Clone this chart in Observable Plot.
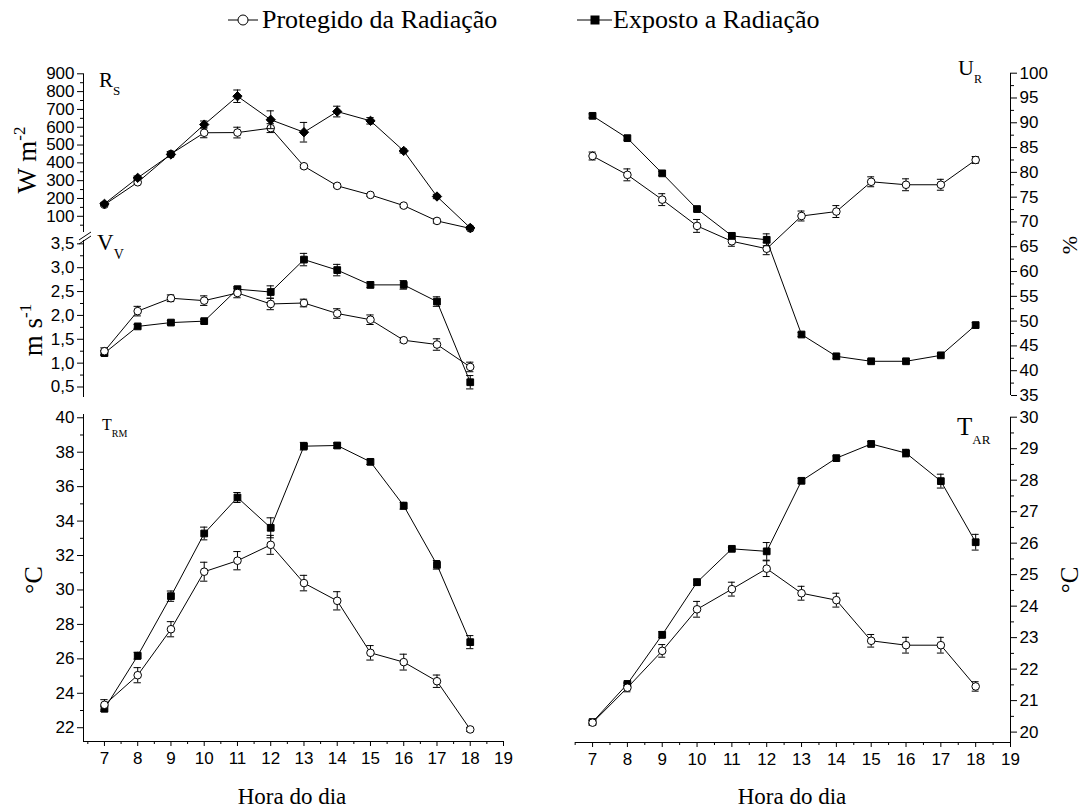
<!DOCTYPE html>
<html><head><meta charset="utf-8">
<script src="https://cdn.jsdelivr.net/npm/d3@7"></script>
<script src="https://cdn.jsdelivr.net/npm/@observablehq/plot@0.6"></script>
<style>
body{margin:0;background:#fff}
#wrap{position:relative;width:1085px;height:810px;overflow:hidden;background:#fff}
#wrap svg{position:absolute;left:0;top:0}
</style></head>
<body><div id="wrap"></div>
<script>
const hours = [7, 8, 9, 10, 11, 12, 13, 14, 15, 16, 17, 18];

const rsProt = [165, 291, 450, 569, 570, 595, 381, 271, 220, 160, 74, 32];
const rsProtErr = [8, 10, 12, 28, 30, 25, 10, 8, 8, 8, 12, 5];
const rsExp = [170, 316, 447, 615, 774, 642, 572, 688, 636, 467, 211, 35];
const rsExpErr = [8, 10, 15, 20, 35, 50, 55, 30, 18, 12, 12, 8];

const vvProt = [1.25, 2.09, 2.36, 2.31, 2.47, 2.24, 2.26, 2.04, 1.91, 1.48, 1.39, 0.92];
const vvProtErr = [0.07, 0.1, 0.07, 0.1, 0.1, 0.12, 0.08, 0.1, 0.1, 0.05, 0.12, 0.1];
const vvExp = [1.21, 1.77, 1.85, 1.88, 2.55, 2.49, 3.17, 2.95, 2.64, 2.64, 2.29, 0.60];
const vvExpErr = [0.05, 0.04, 0.04, 0.04, 0.05, 0.13, 0.13, 0.12, 0.06, 0.09, 0.1, 0.14];

const trmProt = [23.33, 25.05, 27.72, 31.06, 31.7, 32.62, 30.4, 29.37, 26.35, 25.81, 24.7, 21.9];
const trmProtErr = [0.3, 0.44, 0.44, 0.55, 0.53, 0.55, 0.45, 0.53, 0.42, 0.46, 0.36, 0.12];
const trmExp = [23.1, 26.18, 29.64, 33.28, 35.37, 33.61, 38.35, 38.39, 37.44, 34.89, 31.46, 26.97];
const trmExpErr = [0.15, 0.2, 0.3, 0.37, 0.29, 0.58, 0.22, 0.15, 0.15, 0.2, 0.25, 0.38];

const urProt = [83.3, 79.5, 74.5, 69.2, 66.1, 64.6, 71.2, 72.1, 78.1, 77.5, 77.5, 82.5];
const urProtErr = [0.8, 1.2, 1.2, 1.3, 1.0, 1.2, 1.0, 1.2, 1.0, 1.2, 1.1, 0.7];
const urExp = [91.4, 86.9, 79.8, 72.6, 67.2, 66.4, 47.3, 42.9, 41.9, 41.9, 43.1, 49.2];
const urExpErr = [0.4, 0.4, 0.4, 0.4, 0.6, 1.2, 0.4, 0.4, 0.4, 0.4, 0.4, 0.5];

const tarProt = [20.3, 21.41, 22.58, 23.9, 24.54, 25.19, 24.41, 24.19, 22.9, 22.76, 22.76, 21.45];
const tarProtErr = [0.08, 0.13, 0.2, 0.25, 0.22, 0.25, 0.22, 0.22, 0.2, 0.25, 0.25, 0.15];
const tarExp = [20.32, 21.53, 23.09, 24.76, 25.82, 25.74, 27.98, 28.7, 29.15, 28.86, 27.97, 26.03];
const tarExpErr = [0.05, 0.05, 0.1, 0.1, 0.05, 0.28, 0.08, 0.07, 0.08, 0.12, 0.22, 0.25];

const xTicks = [7, 8, 9, 10, 11, 12, 13, 14, 15, 16, 17, 18, 19];
const xMinor = [6.5, 7.5, 8.5, 9.5, 10.5, 11.5, 12.5, 13.5, 14.5, 15.5, 16.5, 17.5, 18.5];
const rsTicks = [100, 200, 300, 400, 500, 600, 700, 800, 900];
const rsMinor = [50, 150, 250, 350, 450, 550, 650, 750, 850];
const vvTicks = [0.5, 1.0, 1.5, 2.0, 2.5, 3.0, 3.5];
const vvMinor = [0.75, 1.25, 1.75, 2.25, 2.75, 3.25];
const trmTicks = [22, 24, 26, 28, 30, 32, 34, 36, 38, 40];
const trmMinor = [23, 25, 27, 29, 31, 33, 35, 37, 39];
const urTicks = [35, 40, 45, 50, 55, 60, 65, 70, 75, 80, 85, 90, 95, 100];
const urMinor = [37.5, 42.5, 47.5, 52.5, 57.5, 62.5, 67.5, 72.5, 77.5, 82.5, 87.5, 92.5, 97.5];
const tarTicks = [20, 21, 22, 23, 24, 25, 26, 27, 28, 29, 30];
const tarMinor = [20.5, 21.5, 22.5, 23.5, 24.5, 25.5, 26.5, 27.5, 28.5, 29.5];

const W = 1085, H = 810;
const rows = (v, e) => hours.map((h, i) => ({h, v: v[i], e: e[i]}));

function series(v, e, symbol, fill, r, cap) {
  const d = rows(v, e);
  return [
    Plot.ruleX(d, {x: "h", y1: q => q.v - q.e, y2: q => q.v + q.e, stroke: "black", strokeWidth: 1}),
    Plot.ruleY(d, {y: q => q.v + q.e, x1: q => q.h - cap, x2: q => q.h + cap, stroke: "black", strokeWidth: 1}),
    Plot.ruleY(d, {y: q => q.v - q.e, x1: q => q.h - cap, x2: q => q.h + cap, stroke: "black", strokeWidth: 1}),
    Plot.line(d, {x: "h", y: "v", stroke: "black", strokeWidth: 1}),
    Plot.dot(d, {x: "h", y: "v", symbol, fill, stroke: "black", strokeWidth: 1, r})
  ];
}

function yAxes(anchor, major, minor, fmt) {
  return [
    Plot.axisY(major, {anchor, label: null, tickSize: 6, tickPadding: 3, fontSize: 17, tickFormat: fmt}),
    Plot.axisY(minor, {anchor, label: null, tickSize: 3, tickFormat: () => ""})
  ];
}
function xAxes() {
  return [
    Plot.axisX(xTicks, {anchor: "bottom", label: null, tickSize: 5, tickPadding: 5, fontSize: 17, tickFormat: d => String(d)}),
    Plot.axisX(xMinor, {anchor: "bottom", label: null, tickSize: 3, tickFormat: () => ""})
  ];
}

function panel(x0, x1, y0, y1, xd, yd, marks) {
  return Plot.plot({
    width: W, height: H,
    marginLeft: x0, marginRight: W - x1, marginTop: y0, marginBottom: H - y1,
    x: {domain: xd, axis: null},
    y: {domain: yd, axis: null},
    style: {background: "none", fontFamily: "'Liberation Sans', Arial, sans-serif", fontSize: "17px", color: "black", overflow: "visible"},
    marks
  });
}

const LX = [6.37, 19], RX = [6.51, 19];
const num = d => String(d);
const comma = d => d.toFixed(1).replace(".", ",");

const plots = [
  panel(83, 503, 73.3, 232, LX, [9, 900], [
    Plot.ruleX([LX[0]], {stroke: "black"}),
    ...yAxes("left", rsTicks, rsMinor, num),
    ...series(rsProt, rsProtErr, "circle", "white", 3.8, 0.11),
    ...series(rsExp, rsExpErr, "diamond2", "black", 4.2, 0.11)
  ]),
  panel(83, 503, 240, 397, LX, [0.28, 3.57], [
    Plot.ruleX([LX[0]], {stroke: "black"}),
    ...yAxes("left", vvTicks, vvMinor, comma),
    ...series(vvExp, vvExpErr, "square", "black", 3.8, 0.11),
    ...series(vvProt, vvProtErr, "circle", "white", 3.8, 0.11)
  ]),
  panel(83, 503, 414, 741, LX, [21.2, 40.19], [
    Plot.ruleX([LX[0]], {stroke: "black"}),
    Plot.ruleY([21.2], {stroke: "black"}),
    ...yAxes("left", trmTicks, trmMinor, num),
    ...xAxes(),
    ...series(trmExp, trmExpErr, "square", "black", 3.8, 0.11),
    ...series(trmProt, trmProtErr, "circle", "white", 3.8, 0.11)
  ]),
  panel(575, 1010, 72.7, 395, RX, [35, 100], [
    Plot.ruleX([RX[1]], {stroke: "black"}),
    ...yAxes("right", urTicks, urMinor, num),
    ...series(urProt, urProtErr, "circle", "white", 3.8, 0.1),
    ...series(urExp, urExpErr, "square", "black", 3.8, 0.1)
  ]),
  panel(575, 1010, 416.7, 742, RX, [19.67, 30], [
    Plot.ruleX([RX[1]], {stroke: "black"}),
    Plot.ruleY([19.67], {stroke: "black"}),
    ...yAxes("right", tarTicks, tarMinor, num),
    ...xAxes(),
    ...series(tarExp, tarExpErr, "square", "black", 3.8, 0.1),
    ...series(tarProt, tarProtErr, "circle", "white", 3.8, 0.1)
  ])
];
const wrap = document.getElementById("wrap");
plots.forEach(p => wrap.appendChild(p));

const serif = "font-family=\"'Liberation Serif','Times New Roman',serif\"";
const overlay = `
<svg width="${W}" height="${H}" xmlns="http://www.w3.org/2000/svg" style="overflow:visible">
  <g stroke="black" stroke-width="1">
    <line x1="79" y1="240" x2="91" y2="232"/>
    <line x1="79" y1="244" x2="91" y2="236"/>
  </g>
  <g ${serif} fill="black">
    <line x1="228" y1="20" x2="258" y2="20" stroke="black"/>
    <circle cx="243" cy="20" r="5" fill="white" stroke="black"/>
    <text x="262" y="28" font-size="26">Protegido da Radiação</text>
    <line x1="577" y1="20" x2="612" y2="20" stroke="black"/>
    <rect x="590.5" y="15.5" width="9" height="9" fill="black"/>
    <text x="613" y="28" font-size="26">Exposto a Radiação</text>

    <text transform="translate(36,160) rotate(-90)" text-anchor="middle" font-size="27">W m<tspan dy="-11" font-size="17">-2</tspan></text>
    <text transform="translate(42,330) rotate(-90)" text-anchor="middle" font-size="27">m s<tspan dy="-11" font-size="17">-1</tspan></text>
    <text transform="translate(42,580) rotate(-90)" text-anchor="middle" font-size="26">°C</text>
    <text transform="translate(1077,245) rotate(-90)" text-anchor="middle" font-size="22">%</text>
    <text transform="translate(1078,580) rotate(-90)" text-anchor="middle" font-size="25">°C</text>

    <text x="99" y="87" font-size="21">R<tspan dy="8" font-size="13">S</tspan></text>
    <text x="97" y="250" font-size="23">V<tspan dy="9" font-size="14">V</tspan></text>
    <text x="102" y="430" font-size="16">T<tspan dy="7" font-size="10">RM</tspan></text>
    <text x="958" y="75" font-size="22">U<tspan dy="8" font-size="12">R</tspan></text>
    <text x="957" y="435" font-size="25">T<tspan dy="9" font-size="13">AR</tspan></text>

    <text x="292" y="804" text-anchor="middle" font-size="23">Hora do dia</text>
    <text x="792" y="804" text-anchor="middle" font-size="23">Hora do dia</text>
  </g>
</svg>`;
wrap.insertAdjacentHTML("beforeend", overlay);
</script>
</body></html>
